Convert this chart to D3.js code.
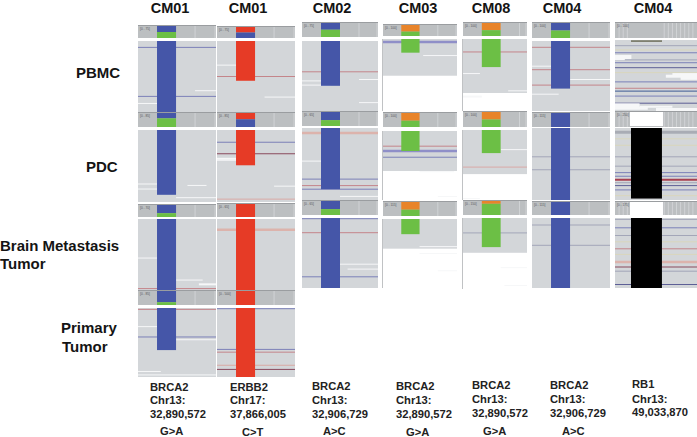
<!DOCTYPE html>
<html><head><meta charset="utf-8">
<script src="https://cdn.jsdelivr.net/npm/d3@7"></script>
<style>html,body{margin:0;padding:0;background:#fff}svg{display:block}</style>
</head><body><svg id="c" width="697" height="437"></svg>
<script>
// ---------- data ----------
const columns = ["CM01","CM01","CM02","CM03","CM08","CM04","CM04"];
const rowLabels = [["PBMC"],["PDC"],["Brain Metastasis","Tumor"],["Primary","Tumor"]];
const genes = ["BRCA2","ERBB2","BRCA2","BRCA2","BRCA2","BRCA2","RB1"];
const chroms = ["Chr13:","Chr17:","Chr13:","Chr13:","Chr13:","Chr13:","Chr13:"];
const positions = ["32,890,572","37,866,005","32,906,729","32,890,572","32,890,572","32,906,729","49,033,870"];
const changes = ["G>A","C>T","A>C","G>A","G>A","A>C",""];
const rangeLabels = [["[0 - 75]","[0 - 85]","[0 - 70]","[0 - 85]"],["[0 - 75]","[0 - 85]","[0 - 65]","[0 - 500]"],
  ["[0 - 75]","[0 - 65]","[0 - 65]"],["[0 - 100]","[0 - 100]","[0 - 115]"],["[0 - 100]","[0 - 100]","[0 - 150]"],
  ["[0 - 100]","[0 - 115]","[0 - 115]"],["[0 - 100]","[0 - 250]","[0 - 175]"]];
// base occupied by the variant in each column
const variantBase = [[1,2],[1,2],[1,2],[1,2],[1,2],[1,2],[1.95,5.73]];
const baseDomain = [4.1,4.1,4.0,4.05,3.4,4.1,10];
// coverage stacks at the variant (percent of reads per allele)
const A="a",C="c",G="g",T="t";
const alleles = [
 [[[A,50],[G,50]],[[A,38],[G,62]],[[A,68],[G,32]],[[A,80],[G,20]]],
 [[[T,50],[A,50]],[[T,45],[A,55]],[[T,100]],[[T,100]]],
 [[[A,48],[G,52]],[[A,58],[G,42]],[[A,58],[G,42]]],
 [[[C,60],[G,40]],[[C,55],[G,45]],[[C,55],[G,45]]],
 [[[C,55],[G,45]],[[C,50],[G,50]],[[C,20],[G,80]]],
 [[[A,50],[G,50]],[[A,100]],[[A,100]]],
 [[],[],[]]];
// depth of the pile-up column and of the gray read area (percent of panel)
const barDepth = [[100,90,100,61],[56,49,100,100],[64,85,100],[19,29,22],[39,33,41],[68,100,100],[0,98,100]];
const coverage = [[100,100,100,100],[100,100,100,100],[100,100,100],[51,58,43],[75,63,49],[100,100,100],[100,100,100]];
// mismatching reads: [depth %, class]
const mismatches = [
 [[[9,"b"],[78,"b"]],[],[[98,"r"]],[[2,"r"],[42,"b"]]],
 [[[50,"r"]],[[17,"b"],[33,"d"],[96,"p"]],[[15,"P"]],[[1,"b"],[60,"b"],[64,"r"],[83,"p"],[89,"d"]]],
 [[[44,"r"]],[[7,"P"],[71,"b"],[80,"r"],[85,"b"]],[[1,"b"],[21,"r"],[84,"b"]]],
 [[[4,"B"]],[[22,"r"],[29,"B"],[38,"b"]],[]],
 [[[18,"r"]],[[53,"p"]],[[21,"g"]]],
 [[[9,"r"],[41,"r"],[63,"r"]],[[40,"g"],[58,"g"]],[[10,"g"],[39,"g"]]],
 [[[8,"g"],[14,"y"],[18,"b"],[28,"g"],[32,"b"],[39,"D"],[46,"y"],[59,"b"],[68,"r"],[72,"N"],[79,"b"],[89,"D"]],
  [[6,"G"],[15,"y"],[24,"y"],[40,"g"],[53,"g"],[62,"b"],[67,"b"],[72,"R"],[76,"g"],[80,"D"],[86,"b"],[94,"y"]],
  [[2,"g"],[14,"b"],[25,"g"],[34,"y"],[44,"r"],[52,"y"],[63,"P"],[70,"d"],[76,"g"],[95,"D"]]]];
// read gaps: [depth %, from base, to base, reads hidden]
const gaps = [
 [[[70,3,4.1],[88,.0,1]],[[75,0,1],[82,0,1],[77,2.6,3.6],[94,2,4.1]],[[55,0,1],[86,2,3.4],[92,3.2,4.1,2]],[[27,0,1],[46,2,4.1],[92,0,1.2],[97,0,4.1]]],
 [[[34,0,1],[79,2.5,4.1]],[[40,0,1,2],[42,0,1],[78,3,4.1]],[],[]],
 [[[55,3,4],[57,0,1],[63,0,1.5],[88,3,4]],[[46,0,1],[95,2,4]],[[66,2,4],[73,2.4,4]]],
 [[[23,2.2,4.05]],[[59,2,3.9],[95,3,4.05]],[[40,2,4.05],[50,2,4.05],[75,3,4.05]]],
 [[[48,0,.9],[80,0,1,2],[72,2.4,3.4]],[[28,2,3.4],[98,0,.9]],[[70,2,3.4],[95,2.2,3.4]]],
 [[[55,2,4.1],[36,0,1],[76,0,1.4]],[],[]],
 [[[24,0,2,4],[27,0,1.2,2],[48,7,10,2],[51,6.2,10,3],[54,8,10,3],[92,0,3,4],[94,3,7,2],[98,5,10,3],[96,0,4,3]],[],[]]];
// ---------- layout (pixels) ----------
const colX = [[138,216],[217,295],[302,378],[383,457],[463,527],[532,610],[615,697]];
const colY = [[[26,38,41,112],[113,127,130,202],[205,217,219,290],[291,305,308,377]],
 [[27,38,41,112],[113,127,130,202],[204,217,219,290],[291,305,308,377]],
 [[23,37,41,111],[112,126,128,200],[201,215,218,288]],
 [[25,36,39,111],[113,127,131,200],[202,216,219,288]],
 [[23,36,39,111],[112,127,130,200],[201,215,218,289]],
 [[23,38,41,111],[113,127,128,200],[202,215,218,288]],
 [[23,38,40,111],[112,127,128,200],[202,215,218,288]]];
const titleX = [170,248,332,418,491,562,653];
const textX = [150,230,312,396,472,550,632];
const changeX = [160,242,323,406,483,562,0];
const textY = [[391,404,418,435],[391,404,418,436],[390,404,418,435],[390,404,418,436],[389,403,417,435],[389,403,417,435],[388,403,416,0]];
const rowLabelPos = [[[76,78]],[[86,172]],[[0,251],[0,269]],[[61,333],[62,352]]];
const colors = {a:"#4456a8",c:"#e8842a",g:"#6cbf45",t:"#e63b26"};
const readCol = {b:"#7b80b8",B:"#8f8fc8",r:"#c4858a",p:"#d9a9a6",P:"#dcb3ac",d:"#8a4a5c",g:"#a3a6b8",G:"#a9acb4",y:"#d9d6bc",D:"#5d5f96",N:"#3f5c96",R:"#a8404f"};
const thick = {B:2.5,P:2.5,G:3,R:2};
const font = "'Liberation Sans',Arial,sans-serif";
// ---------- draw ----------
const svg = d3.select("#c");
svg.append("defs").append("filter").attr("id","soft").append("feGaussianBlur").attr("stdDeviation",.35);
const g = svg.append("g").attr("filter","url(#soft)");
const txt = (x,y,s,size,w,fill)=>svg.append("text").attr("x",x).attr("y",y).text(s)
  .attr("font-family",font).attr("font-size",size).attr("font-weight",w||"bold").attr("fill",fill||"#141414");

columns.forEach((name,c)=>{
  const [x0,x1]=colX[c];
  const x=d3.scaleLinear().domain([0,baseDomain[c]]).range([x0,x1]);
  const [b0,b1]=variantBase[c];
  colY[c].forEach((yy,r)=>{
    const [hT,hB,rT,rB]=yy;
    const yh=d3.scaleLinear().domain([0,100]).range([hT,hB]);
    const y=d3.scaleLinear().domain([0,100]).range([rT,rB]);
    // header track
    g.append("rect").attr("x",x0).attr("y",hT).attr("width",x1-x0).attr("height",hB-hT).attr("fill","#bcbfc1");
    g.append("line").attr("x1",x0).attr("x2",x1).attr("y1",hT-.5).attr("y2",hT-.5).attr("stroke","#9a9da0");
    const seps = c===6 ? d3.range(1,20).map(i=>i/2) : [3, baseDomain[c]-.05];
    g.selectAll(null).data(seps.filter(s=>c<6||s<b0||s>b1)).join("line")
      .attr("x1",d=>x(d)).attr("x2",d=>x(d)).attr("y1",hT).attr("y2",hB).attr("stroke","#d6d8da").attr("stroke-width",.8);
    if(c===6&&r>0){
      g.append("rect").attr("x",x(b0)-1).attr("y",hT).attr("width",x(b1)-x(b0)+2).attr("height",hB-hT-(r===1?1:0)).attr("fill","#fff");
    }
    let acc=0;
    alleles[c][r].forEach(([al,v])=>{
      g.append("rect").attr("x",x(b0)).attr("width",x(b1)-x(b0)).attr("y",yh(acc)).attr("height",yh(acc+v)-yh(acc)).attr("fill",colors[al]);
      acc+=v;
    });
    // reads
    const cov=coverage[c][r];
    g.append("rect").attr("x",x0).attr("y",rT).attr("width",x1-x0).attr("height",y(cov)-y(0)).attr("fill","#d3d6d9");
    if(cov<100) g.append("line").attr("x1",x0-.5).attr("x2",x0-.5).attr("y1",rT).attr("y2",rB).attr("stroke","#c0c2c4");
    g.selectAll(null).data(mismatches[c][r]).join("line")
      .attr("x1",x0).attr("x2",x1).attr("y1",d=>y(d[0])).attr("y2",d=>y(d[0]))
      .attr("stroke",d=>readCol[d[1]]).attr("stroke-width",d=>thick[d[1]]||1);
    g.selectAll(null).data(gaps[c][r]).join("line")
      .attr("x1",d=>x(d[1])).attr("x2",d=>x(d[2])).attr("y1",d=>y(d[0])).attr("y2",d=>y(d[0]))
      .attr("stroke","#f6f7f8").attr("stroke-width",d=>d[3]||1);
    const depth=barDepth[c][r];
    if(depth>0){
      g.append("rect").attr("x",x(b0)).attr("width",x(b1)-x(b0)).attr("y",y(0)).attr("height",y(depth)-y(0))
       .attr("fill", c===6?"#060606": c===1?colors.t : (c===3||c===4)?colors.g : colors.a);
    }
  });
  colY[c].forEach((yy,r)=>txt(x0+2,yy[0]+4,rangeLabels[c][r],3.2,"normal","#55585a"));
  txt(titleX[c],13.2,name,14.5).attr("text-anchor","middle");
  const ty=textY[c];
  txt(textX[c],ty[0],genes[c],11.2,"bold","#222");
  txt(textX[c],ty[1],chroms[c],11.2,"bold","#222");
  txt(textX[c],ty[2],positions[c],11.2,"bold","#222");
  if(changes[c]) txt(changeX[c],ty[3],changes[c],11.2,"bold","#222");
});
// olive read in the RB1 panel
{
  const x=d3.scaleLinear().domain([0,baseDomain[6]]).range(colX[6]);
  const y=d3.scaleLinear().domain([0,100]).range([colY[6][0][2],colY[6][0][3]]);
  g.append("line").attr("x1",x(variantBase[6][0])).attr("x2",x(variantBase[6][1])).attr("y1",y(1.5)).attr("y2",y(1.5)).attr("stroke","#55553a").attr("stroke-width",1.2);
}
rowLabels.forEach((ls,r)=>ls.forEach((l,i)=>txt(rowLabelPos[r][i][0],rowLabelPos[r][i][1],l,15)));
</script></body></html>
